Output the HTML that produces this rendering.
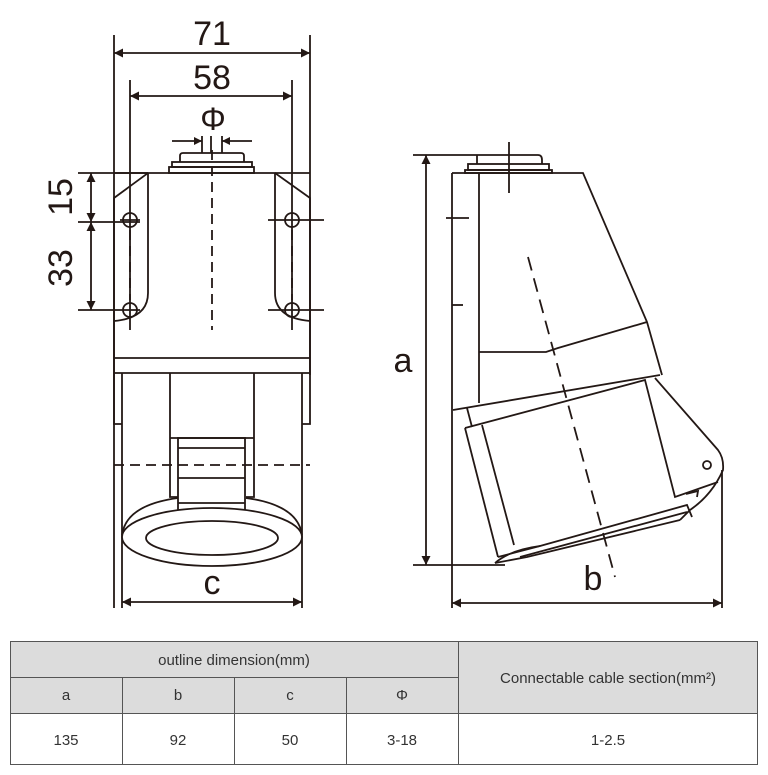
<!DOCTYPE html>
<html><head><meta charset="utf-8"><style>
body{margin:0;background:#fff;width:768px;height:775px;overflow:hidden;font-family:"Liberation Sans",sans-serif}
svg{position:absolute;left:0;top:0}
</style></head><body>
<svg width="768" height="775" viewBox="0 0 768 775" xmlns="http://www.w3.org/2000/svg">
<defs>
<marker id="ar" viewBox="0 0 10 10" refX="10" refY="5" markerWidth="20" markerHeight="9" markerUnits="userSpaceOnUse" orient="auto-start-reverse"><path d="M0,0 L10,5 L0,10 z" fill="#231815"/></marker>
<marker id="as" viewBox="0 0 10 10" refX="10" refY="5" markerWidth="14" markerHeight="8" markerUnits="userSpaceOnUse" orient="auto-start-reverse"><path d="M0,0 L10,5 L0,10 z" fill="#231815"/></marker>
</defs>
<g stroke="#231815" stroke-width="1.8" fill="none">
<!-- FRONT VIEW -->
<line x1="114" y1="35" x2="114" y2="608"/>
<line x1="310" y1="35" x2="310" y2="375"/>
<line x1="130" y1="80" x2="130" y2="330"/>
<line x1="292" y1="80" x2="292" y2="330"/>
<line x1="114" y1="53" x2="310" y2="53" marker-start="url(#ar)" marker-end="url(#ar)"/>
<line x1="130" y1="96" x2="292" y2="96" marker-start="url(#ar)" marker-end="url(#ar)"/>
<line x1="172" y1="141" x2="202" y2="141" marker-end="url(#as)"/>
<line x1="252" y1="141" x2="222" y2="141" marker-end="url(#as)"/>
<line x1="202" y1="136" x2="202" y2="153"/><line x1="222" y1="136" x2="222" y2="153"/><line x1="211" y1="136" x2="211" y2="153"/>
<path d="M180,162 V156 Q180,153 183,153 H241 Q244,153 244,156 V162"/>
<rect x="172" y="162" width="80" height="5"/>
<rect x="169" y="167" width="85" height="6"/>
<path d="M114,373 V198 L148,173 H275 L310,198 V373"/>
<line x1="114" y1="173" x2="148" y2="173"/><line x1="275" y1="173" x2="310" y2="173"/>
<path d="M148,173 V293 Q148,318 114,321"/>
<path d="M275,173 V293 Q275,318 310,321"/>
<line x1="114" y1="358" x2="310" y2="358"/>
<line x1="114" y1="373" x2="310" y2="373"/>
<circle cx="130" cy="220" r="7"/><circle cx="130" cy="310" r="7"/>
<circle cx="292" cy="220" r="7"/><circle cx="292" cy="310" r="7"/>
<line x1="120" y1="220" x2="140" y2="220"/>
<line x1="268" y1="220" x2="324" y2="220"/><line x1="268" y1="310" x2="324" y2="310"/>
<line x1="78" y1="173" x2="148" y2="173"/><line x1="78" y1="222" x2="140" y2="222"/><line x1="78" y1="310" x2="140" y2="310"/>
<line x1="91" y1="173" x2="91" y2="222" marker-start="url(#ar)" marker-end="url(#ar)"/>
<line x1="91" y1="222" x2="91" y2="310" marker-start="url(#ar)" marker-end="url(#ar)"/>
<g stroke-dasharray="10,6"><line x1="212" y1="150" x2="212" y2="330"/><line x1="130" y1="230" x2="130" y2="300"/><line x1="292" y1="230" x2="292" y2="300"/>
<line x1="114" y1="465" x2="310" y2="465"/></g>
<path d="M114,373 V424 H122"/><path d="M310,373 V424 H302"/>
<line x1="122" y1="373" x2="122" y2="608"/><line x1="302" y1="373" x2="302" y2="608"/>
<path d="M170,373 V497 H178"/><path d="M254,373 V497 H246"/>
<rect x="178" y="438" width="67" height="74"/>
<line x1="170" y1="438" x2="254" y2="438"/>
<line x1="178" y1="448" x2="245" y2="448"/><line x1="178" y1="478" x2="245" y2="478"/><line x1="178" y1="503" x2="245" y2="503"/>
<path d="M122,535 Q126,505 178,498"/><path d="M302,535 Q298,505 246,498"/>
<ellipse cx="212" cy="537" rx="90" ry="29" fill="#fff"/>
<ellipse cx="212" cy="538" rx="66" ry="17"/>
<line x1="122" y1="602" x2="302" y2="602" marker-start="url(#ar)" marker-end="url(#ar)"/>
<!-- SIDE VIEW -->
<line x1="413" y1="155" x2="538" y2="155"/><path d="M538,155 Q542,155 542,160 V164"/>
<line x1="477" y1="155" x2="477" y2="164"/>
<rect x="468" y="164" width="81" height="6"/>
<rect x="465" y="170" width="87" height="3"/>
<line x1="509" y1="142" x2="509" y2="193"/>
<line x1="413" y1="565" x2="505" y2="565"/>
<line x1="426" y1="155" x2="426" y2="565" marker-start="url(#ar)" marker-end="url(#ar)"/>
<line x1="452" y1="173" x2="452" y2="608"/>
<line x1="722" y1="470" x2="722" y2="608"/>
<line x1="452" y1="603" x2="722" y2="603" marker-start="url(#ar)" marker-end="url(#ar)"/>
<line x1="446" y1="218" x2="469" y2="218"/><line x1="452" y1="305" x2="463" y2="305"/>
<path d="M452,173 H583 L647,322 L662,375"/>
<line x1="479" y1="173" x2="479" y2="403"/>
<path d="M479,352 H546 L558,348 L647,322"/>
<line x1="453" y1="410" x2="660" y2="375"/>
<path d="M467,408 L472,427"/>
<path d="M465,428 L645,380 L675,497 L718,482"/>
<path d="M465,428 L498,557"/><path d="M482,425 L514,545"/>
<path d="M655,378 L718,450 Q724,458 723,470 Q712,495 690,510 L680,520"/>
<path d="M498,557 L540,546 L687,505 L692,517"/>
<path d="M495,563 L527,557 L680,520"/>
<path d="M495,563 Q510,550 540,546"/>
<line x1="520" y1="557" x2="687" y2="512"/>
<path d="M686,494 L698,491 L697,497"/>
<circle cx="707" cy="465" r="4"/>
<line x1="528" y1="257" x2="615" y2="577" stroke-dasharray="14,8"/>
</g>
<g fill="#231815" font-family="Liberation Sans, sans-serif" font-size="34" text-anchor="middle">
<text x="212" y="45">71</text>
<text x="212" y="89">58</text>
<text x="213" y="130" font-size="32">Φ</text>
<text x="212" y="594">c</text>
<text x="403" y="372">a</text>
<text x="593" y="590">b</text>
<text transform="translate(72,197) rotate(-90)">15</text>
<text transform="translate(72,268) rotate(-90)">33</text>
</g>
<!-- TABLE -->
<g font-family="Liberation Sans, sans-serif" font-size="15" fill="#333" text-anchor="middle">
<rect x="10" y="641" width="448" height="72" fill="#dcdcdc"/>
<rect x="458" y="641" width="300" height="72" fill="#dcdcdc"/>
<g stroke="#555" stroke-width="1" fill="none">
<rect x="10.5" y="641.5" width="747" height="123"/>
<line x1="10" y1="677.5" x2="458" y2="677.5"/>
<line x1="10" y1="713.5" x2="758" y2="713.5"/>
<line x1="458.5" y1="641" x2="458.5" y2="765"/>
<line x1="122.5" y1="677" x2="122.5" y2="765"/>
<line x1="234.5" y1="677" x2="234.5" y2="765"/>
<line x1="346.5" y1="677" x2="346.5" y2="765"/>
</g>
<text x="234" y="665">outline dimension(mm)</text>
<text x="608" y="683">Connectable cable section(mm²)</text>
<text x="66" y="700">a</text><text x="178" y="700">b</text><text x="290" y="700">c</text><text x="402" y="700">Φ</text>
<text x="66" y="745">135</text><text x="178" y="745">92</text><text x="290" y="745">50</text><text x="402" y="745">3-18</text>
<text x="608" y="745">1-2.5</text>
</g>
</svg>
</body></html>
